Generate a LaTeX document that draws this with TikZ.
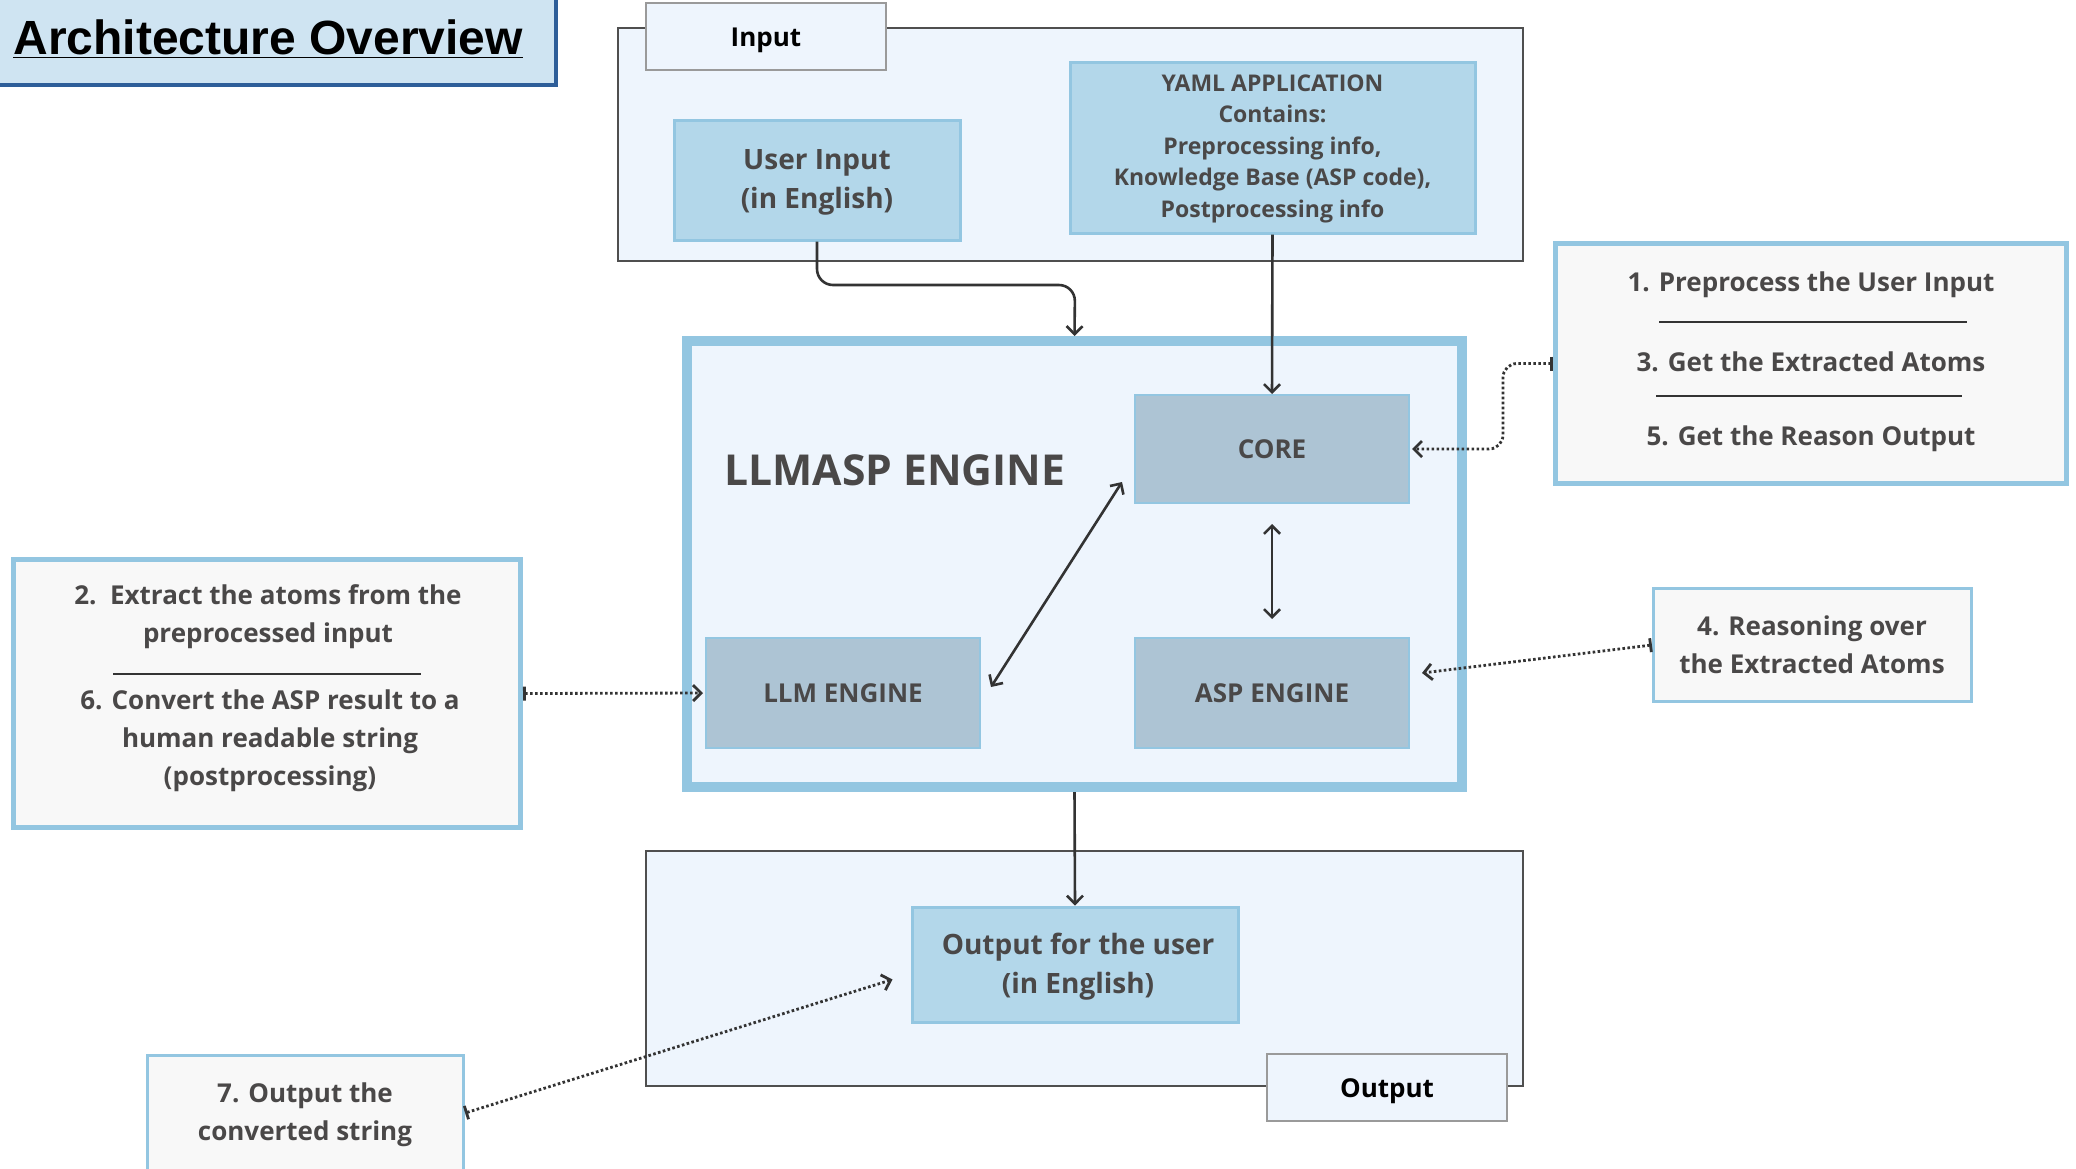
\documentclass[tikz,border=0pt]{standalone}
\usepackage{fontspec}
\setmainfont{Open Sans}
\newfontfamily\titlefont{Liberation Sans}
\usetikzlibrary{arrows.meta,calc}
\definecolor{contfill}{HTML}{EEF5FD}
\definecolor{contline}{HTML}{4F4F4F}
\definecolor{tabline}{HTML}{9A9A9A}
\definecolor{bluefill}{HTML}{B3D7EA}
\definecolor{blueline}{HTML}{93C6E1}
\definecolor{grayfill}{HTML}{ADC4D4}
\definecolor{notefill}{HTML}{F8F8F8}
\definecolor{txt}{HTML}{4A4848}
\definecolor{connc}{HTML}{333333}
\definecolor{titlefill}{HTML}{CFE4F2}
\definecolor{titleline}{HTML}{2E5E99}
\tikzset{
  cont/.style={draw=contline, line width=1pt, fill=contfill, inner sep=0pt},
  tabbox/.style={draw=tabline, line width=0.8pt, fill=contfill, text=black,
    font=\fontsize{13}{15}\selectfont\bfseries},
  bluebox/.style={draw=blueline, line width=1.5pt, fill=bluefill, text=txt, align=center,
    font=\fontsize{14}{19.5}\selectfont\bfseries},
  graybox/.style={draw=blueline, line width=1pt, fill=grayfill, text=txt,
    font=\fontsize{13}{15}\selectfont\bfseries},
  notebox/.style={draw=blueline, fill=notefill, line width=2.5pt},
  notetext/.style={text=txt, align=center, font=\fontsize{13}{19}\selectfont\bfseries},
  sepline/.style={draw=connc, line width=0.8pt},
  tipend/.tip={Straight Barb[length=4pt,width=8pt]},
  conn/.style={draw=connc, line width=1.3pt, -tipend},
  biconn/.style={draw=connc, line width=1.3pt, tipend-tipend},
  dotconn/.style={draw=connc, line width=1.4pt, dash pattern=on 1.3pt off 1.2pt, {Bar[width=7pt]}-tipend},
}
\begin{document}
\begin{tikzpicture}[x=0.5pt,y=-0.5pt]
\useasboundingbox (0,0) rectangle (2076,1168);
\fill[white] (0,0) rectangle (2076,1168);

% title
\node[draw=titleline, line width=1.6pt, fill=titlefill, minimum width=560*0.5pt, minimum height=89*0.5pt, inner sep=0pt] (titlebox) at (276,40.5) {};
\node[anchor=base west, inner sep=0pt, font=\titlefont\fontsize{24}{28}\selectfont\bfseries, text=black] (title) at (13,54) {\underline{Architecture Overview}};

% input container
\node[cont, minimum width=905*0.5pt, minimum height=233*0.5pt] (inputC) at (1070.5,144.5) {};
\node[tabbox, minimum width=240*0.5pt, minimum height=67*0.5pt] (inputTab) at (766,36.5) {};
\node[text=black, font=\fontsize{13}{15}\selectfont\bfseries] (inputLbl) at (766,40) {Input};
\node[bluebox, minimum width=286*0.5pt, minimum height=120*0.5pt] (userIn) at (817,180) {};
\node[text=txt, align=center, font=\fontsize{14}{19.5}\selectfont\bfseries] (userInLbl) at (817,182.5) {User Input\\(in English)};
\node[bluebox, minimum width=405*0.5pt, minimum height=171*0.5pt] (yaml) at (1272.5,147.5) {};
\node[text=txt, align=center, font=\fontsize{11.5}{15.75}\selectfont\bfseries] (yamlLbl) at (1272.5,148.5)
  {YAML APPLICATION\\Contains:\\Preprocessing info,\\Knowledge Base (ASP code),\\Postprocessing info};

% engine
\node[draw=blueline, line width=5pt, fill=contfill, minimum width=775*0.5pt, minimum height=446*0.5pt] (engine) at (1074.5,564) {};
\node[anchor=west, text=txt, font=\fontsize{21.3}{24}\selectfont\bfseries, inner sep=0pt] (engLabel) at (724,470) {LLMASP ENGINE};
\node[graybox, minimum width=274*0.5pt, minimum height=108*0.5pt] (core) at (1272,449) {CORE};
\node[graybox, minimum width=274*0.5pt, minimum height=110*0.5pt] (llm) at (843,693) {LLM ENGINE};
\node[graybox, minimum width=274*0.5pt, minimum height=110*0.5pt] (asp) at (1272,693) {ASP ENGINE};

% output container
\node[cont, minimum width=877*0.5pt, minimum height=235*0.5pt] (outC) at (1084.5,968.5) {};
\node[bluebox, minimum width=326*0.5pt, minimum height=115*0.5pt] (outBox) at (1075,964.5) {};
\node[text=txt, align=center, font=\fontsize{14}{19.5}\selectfont\bfseries] (outLbl) at (1078,967) {Output for the user\\(in English)};
\node[tabbox, minimum width=240*0.5pt, minimum height=67*0.5pt] (outTab) at (1387,1087.5) {};
\node[text=black, font=\fontsize{13}{15}\selectfont\bfseries] (outTabLbl) at (1387,1091) {Output};

% note 1/3/5
\node[notebox, minimum width=511*0.5pt, minimum height=240*0.5pt] (note1) at (1811,363.5) {};
\node[notetext] (n1a) at (1811,285) {1. Preprocess the User Input};
\node[notetext] (n1b) at (1811,362) {3. Get the Extracted Atoms};
\node[notetext] (n1c) at (1811,439) {5. Get the Reason Output};
\draw[sepline] (1659,322) -- (1967,322);
\draw[sepline] (1656,396) -- (1962,396);

% note 4
\node[notebox, line width=1.6pt, minimum width=318*0.5pt, minimum height=113*0.5pt] (note4) at (1812.5,645) {};
\node[notetext] (n4) at (1812,645) {4. Reasoning over\\the Extracted Atoms};

% note 2/6
\node[notebox, minimum width=507*0.5pt, minimum height=268*0.5pt] (note26) at (267,693.5) {};
\node[notetext] (n2) at (268,617) {2.\ \ Extract the atoms from the\\preprocessed input};
\node[notetext] (n6) at (270,741) {6. Convert the ASP result to a\\human readable string\\(postprocessing)};
\draw[sepline] (113,674) -- (421,674);

% note 7
\node[notebox, line width=1.6pt, minimum width=316*0.5pt, minimum height=125*0.5pt] (note7) at (305.5,1118) {};
\node[notetext] (n7) at (305,1115) {7. Output the\\converted string};

% connectors
\coordinate (k1) at (1075,285);
\draw[conn, rounded corners=8pt] (userIn.south) |- (k1) -- (engine.north);
\draw[conn] (yaml.south) -- (core.north);
\draw[conn] (engine.south) -- (outBox.north);
\draw[biconn, shorten <=10pt, shorten >=9pt] (core.south) -- (asp.north);
\draw[biconn] ([shift={(10,-6)}]llm.east) -- ([shift={(-12,33)}]core.west);
\draw[dotconn, rounded corners=7pt] (note1.west) -- ++(-50,0) |- ([xshift=1pt]core.east);
\draw[dotconn] (note4.west) -- ([shift={(12,-20)}]asp.east);
\draw[dotconn] (note26.east) -- ([xshift=-1pt]llm.west);
\draw[dotconn] ([yshift=2.5pt]note7.east) -- ([shift={(-18,15)}]outBox.west);
\end{tikzpicture}
\end{document}
